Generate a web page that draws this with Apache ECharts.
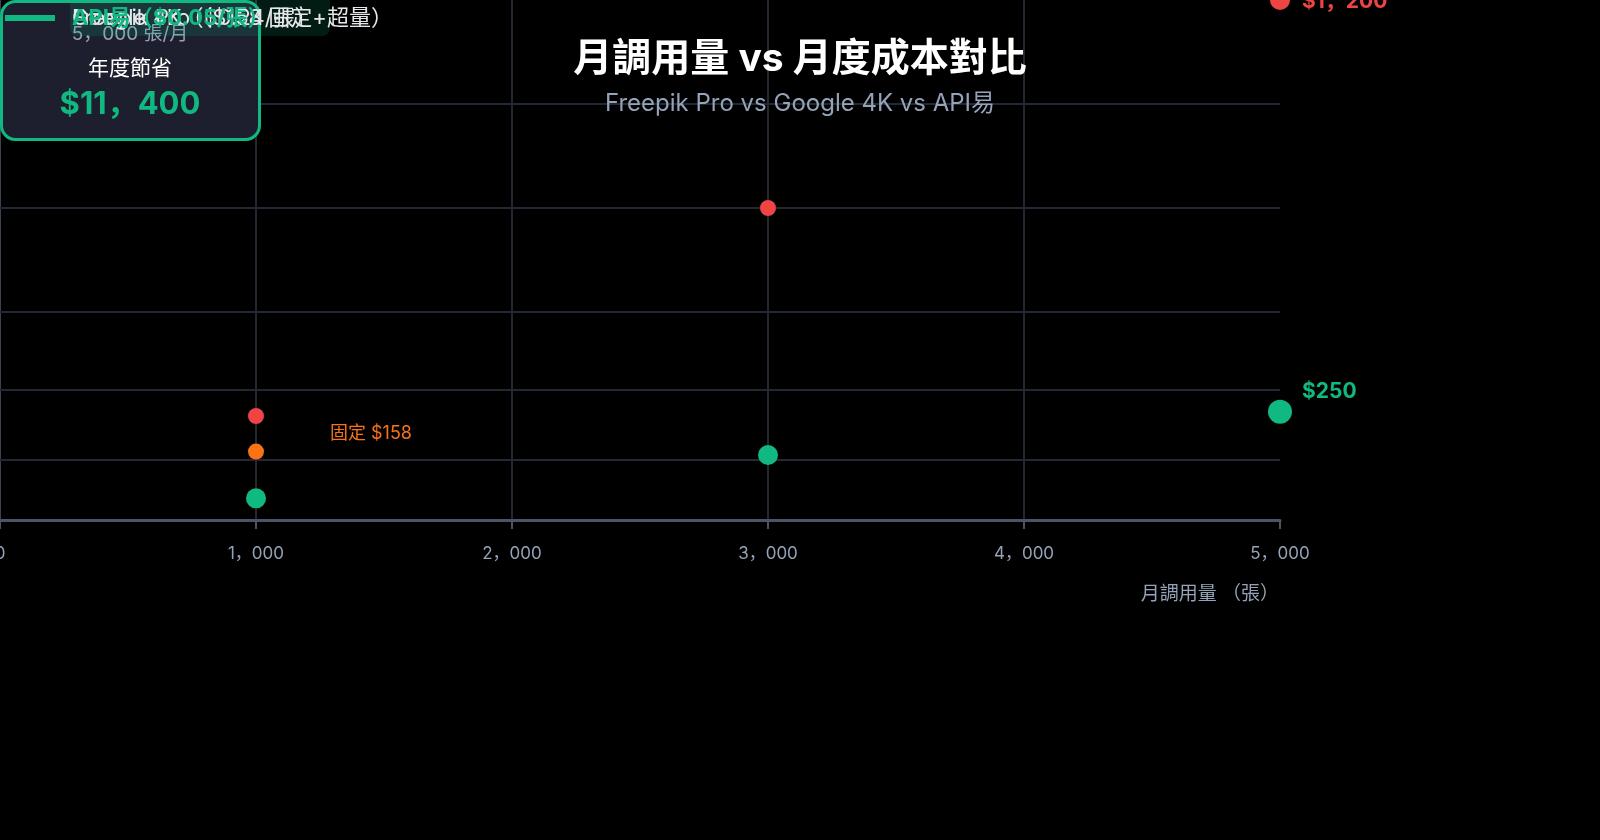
<!DOCTYPE html>
<html lang="zh-Hant">
<head>
    <meta charset="UTF-8">
    <title>月調用量 vs 月度成本對比</title>
    <script src="https://cdn.jsdelivr.net/npm/echarts@6.0.0/dist/echarts.min.js"></script>
    <style>
        html, body { margin: 0; padding: 0; background: #000; }
        #main { width: 1600px; height: 840px; }
    </style>
</head>
<body>
<div id="main"></div>

<script type="text/javascript">
    // 月調用量（張）
    var usage = [1000, 3000, 5000];
    // 各方案月度成本（USD）
    var googleCost = [240, 720, 1200];
    var apiCost = [50, 150, 250];
    var freepikUsage = [1000];
    var freepikCost = [158];
    // 橫向格線位置
    var yGridValues = [140, 300, 480, 720, 960];
    var seriesNames = ['Google 4K（$0.24/張）', 'Freepik Pro（$158 固定+超量）', 'API易（$0.05/張）'];

    var font = 'Inter, "Noto Sans CJK SC", sans-serif';
    var last = usage.length - 1;

    function fmt(v) {
        return v.toLocaleString('en-US').replace(/,/g, '，');
    }

    // 年度節省 = (Google - API易) × 12
    var yearlySaving = (googleCost[last] - apiCost[last]) * 12;

    var googleData = usage.map(function (u, i) {
        var item = {value: [u, googleCost[i]]};
        if (i === last) {
            item.symbolSize = 20;
            item.label = {
                show: true, position: 'right', distance: 12, offset: [0, 2],
                formatter: '$' + fmt(googleCost[i]),
                color: '#ef4444', fontSize: 21, fontWeight: 'bold', fontFamily: font
            };
        }
        return item;
    });

    var apiData = usage.map(function (u, i) {
        var item = {value: [u, apiCost[i]]};
        if (i === last) {
            item.symbolSize = 24;
            item.label = {
                show: true, position: 'right', distance: 10, offset: [0, -20],
                formatter: '$' + fmt(apiCost[i]),
                color: '#10b981', fontSize: 21, fontWeight: 'bold', fontFamily: font
            };
        }
        return item;
    });

    var freepikData = freepikUsage.map(function (u, i) {
        return {value: [u, freepikCost[i]]};
    });

    var legendColors = ['#e5e7eb', '#e5e7eb', '#10b981'];
    var legends = seriesNames.map(function (n, i) {
        return {
            data: [n],
            left: 0,
            top: 2,
            z: 20,
            icon: 'rect',
            itemWidth: 50,
            itemHeight: 6,
            selectedMode: false,
            textStyle: {
                color: legendColors[i],
                fontSize: 22,
                lineHeight: 22,
                fontWeight: i === 2 ? 'bold' : 'normal',
                fontFamily: font,
                padding: [0, 0, 0, 12]
            }
        };
    });

    var myChart = echarts.init(document.getElementById('main'));

    var option = {
        backgroundColor: '#000',
        animation: false,
        title: {
            text: '月調用量 vs 月度成本對比',
            subtext: 'Freepik Pro vs Google 4K vs API易',
            left: 'center',
            top: 34,
            itemGap: 12,
            textStyle: {color: '#ffffff', fontSize: 39, fontWeight: 'bold', lineHeight: 40, fontFamily: font},
            subtextStyle: {color: '#94a3b8', fontSize: 24, lineHeight: 26, fontFamily: font}
        },
        legend: legends,
        grid: {left: 0, right: 320, top: 0, bottom: 320, outerBoundsMode: 'none', containLabel: false},
        xAxis: {
            type: 'value',
            min: 0,
            max: 5000,
            interval: 1000,
            name: '月調用量 （張）',
            nameLocation: 'end',
            nameGap: -1,
            nameTextStyle: {
                color: '#94a3b8', fontSize: 19, fontFamily: font,
                align: 'right', verticalAlign: 'top', padding: [65, 0, 0, 0]
            },
            axisLine: {show: true, lineStyle: {color: '#4a5568', width: 3}},
            axisTick: {show: true, length: 9, lineStyle: {color: '#4a5568', width: 2}},
            axisLabel: {color: '#94a3b8', fontSize: 17, margin: 25, fontFamily: font, formatter: fmt},
            splitLine: {show: true, showMaxLine: false, lineStyle: {color: '#222834', width: 2}}
        },
        yAxis: {
            type: 'value',
            min: 0,
            max: 1200,
            axisLine: {show: true, lineStyle: {color: '#3b4252', width: 2}},
            axisTick: {show: false},
            axisLabel: {show: false},
            splitLine: {show: false}
        },
        graphic: [
            {
                // 年度節省提示框
                type: 'group',
                z: 5,
                children: [
                    {
                        type: 'rect',
                        z: 5,
                        shape: {x: 1.5, y: 1.5, width: 258, height: 138, r: 14},
                        style: {fill: '#1e1f2e', stroke: '#10b981', lineWidth: 3}
                    },
                    {
                        type: 'text', z: 6, x: 130, y: 34,
                        style: {text: fmt(usage[last]) + ' 張/月', fill: '#94a3b8', fontSize: 19, fontFamily: font, align: 'center', verticalAlign: 'middle'}
                    },
                    {
                        type: 'text', z: 6, x: 130, y: 69,
                        style: {text: '年度節省', fill: '#ffffff', fontSize: 21, fontFamily: font, align: 'center', verticalAlign: 'middle'}
                    },
                    {
                        type: 'text', z: 6, x: 130, y: 105,
                        style: {text: '$' + fmt(yearlySaving), fill: '#10b981', fontSize: 31, fontWeight: 'bold', fontFamily: font, align: 'center', verticalAlign: 'middle'}
                    }
                ]
            },
            {
                // 圖例底色
                type: 'rect',
                z: 7,
                shape: {x: 70, y: -12, width: 260, height: 48, r: 8},
                style: {fill: 'rgba(16,185,129,0.15)'}
            }
        ],
        series: [
            {
                name: seriesNames[0],
                type: 'scatter',
                symbolSize: 16,
                itemStyle: {color: '#ef4444', opacity: 1},
                data: googleData
            },
            {
                name: seriesNames[1],
                type: 'scatter',
                symbolSize: 16,
                itemStyle: {color: '#f97316', opacity: 1},
                label: {
                    show: true, position: 'right', distance: 66, offset: [0, -18],
                    formatter: '固定 $' + freepikCost[0],
                    color: '#f97316', fontSize: 18, fontFamily: font
                },
                data: freepikData,
                markLine: {
                    silent: true,
                    z: 1,
                    symbol: 'none',
                    label: {show: false},
                    lineStyle: {color: '#222834', width: 2, type: 'solid'},
                    data: yGridValues.map(function (v) { return {yAxis: v}; })
                }
            },
            {
                name: seriesNames[2],
                type: 'scatter',
                symbolSize: 20,
                itemStyle: {color: '#10b981', opacity: 1},
                data: apiData
            }
        ]
    };

    myChart.setOption(option);
</script>
</body>
</html>
